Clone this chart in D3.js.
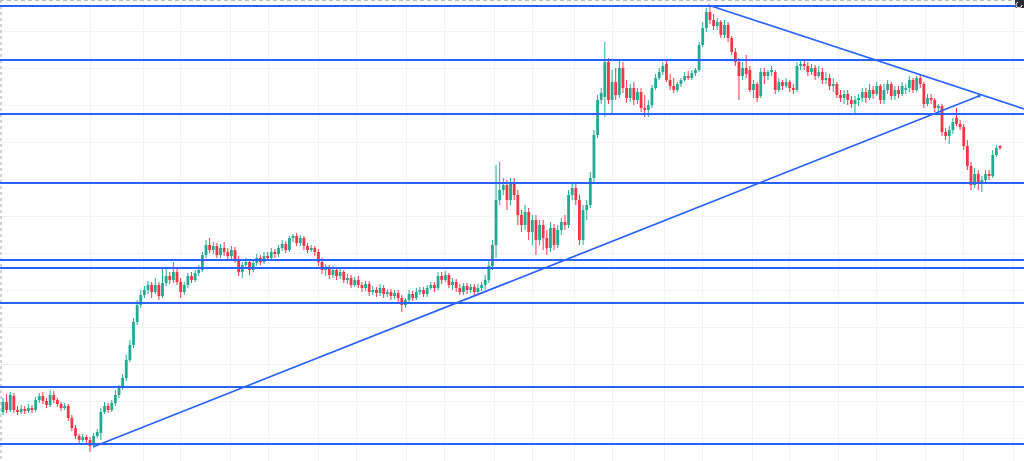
<!DOCTYPE html>
<html>
<head>
<meta charset="utf-8">
<script src="https://cdn.jsdelivr.net/npm/d3@7"></script>
<style>
html,body{margin:0;padding:0;background:#fff;overflow:hidden;}
svg{display:block;}
</style>
</head>
<body>
<svg id="chart" width="1024" height="461"></svg>
<script>
// ---- DATA (price units, candle index = time) ----
const opens = [
88,98,90,104,90,88,91,89,92,90,
100,104,99,95,105,100,96,92,94,82,
72,64,60,63,60,56,64,67,88,94,
90,97,105,112,122,140,155,178,195,205,
210,215,208,215,204,217,224,220,228,218,
208,215,224,220,227,230,245,255,250,254,
245,252,248,244,250,240,228,235,238,230,
237,242,238,244,242,248,246,252,256,250,
262,264,257,262,254,250,252,248,238,230,
232,225,230,224,228,220,222,215,220,215,
212,216,208,210,207,212,206,208,204,207,
202,195,200,206,202,208,210,206,212,215,
212,224,220,225,215,218,212,208,214,210,
213,208,212,215,220,234,255,300,310,315,
300,318,305,285,275,288,268,280,260,275,
262,252,272,255,270,278,275,305,312,300,
260,290,295,322,365,400,403,438,400,418,
405,432,412,402,412,400,408,392,390,395,
412,422,428,436,420,414,410,416,420,424,
422,427,430,455,472,488,480,474,478,465,
475,462,448,438,424,432,430,410,416,404,
428,424,428,428,410,418,414,418,412,410,
434,436,434,428,432,424,428,420,422,414,
416,405,402,406,400,396,400,402,408,402,
410,406,414,400,410,416,404,410,406,410,
412,420,410,422,416,396,402,400,392,394,
368,364,370,382,376,373,354,334,315,326,
316,320,326,324,345,354
];
const highs = [
102,106,108,107,94,95,94,96,95,103,
107,108,102,110,109,102,98,97,96,85,
75,66,66,65,63,67,71,92,98,97,
100,110,115,126,145,160,182,200,210,214,
219,218,222,218,232,232,228,238,231,222,
218,227,228,230,235,248,260,262,258,257,
256,258,252,254,253,244,238,242,241,241,
246,245,248,248,252,251,255,260,259,264,
266,267,265,264,257,255,254,251,242,236,
235,234,232,231,230,226,225,223,224,218,
219,219,214,213,216,215,211,211,210,210,
205,202,210,209,212,213,213,215,218,218,
228,228,229,227,222,221,216,217,217,216,
216,216,218,225,240,260,335,338,322,320,
322,322,310,290,295,292,285,285,280,280,
270,278,276,275,282,285,310,317,317,305,
295,300,328,370,405,412,458,442,430,432,
440,438,420,416,418,412,412,405,400,415,
426,432,438,440,426,422,418,422,428,429,
430,432,458,478,492,494,486,482,480,480,
478,464,452,442,438,445,434,420,418,432,
432,430,434,430,422,420,422,420,416,438,
440,440,438,436,435,434,432,428,426,422,
418,410,410,410,404,404,406,412,412,416,
414,418,416,416,420,418,414,414,418,416,
424,422,424,426,418,406,406,402,396,396,
372,374,382,392,380,376,360,338,332,330,
324,330,330,350,355,355
];
const lows = [
85,87,88,87,85,86,86,87,87,88,
97,96,92,93,97,93,89,90,79,69,
61,57,58,57,48,54,62,60,86,87,
88,94,102,110,119,138,152,175,192,202,
206,202,206,200,202,214,216,217,215,202,
205,212,217,218,224,228,242,247,246,242,
242,244,240,241,237,224,222,232,225,228,
234,235,236,239,240,242,243,249,247,248,
258,254,254,250,247,248,244,234,226,224,
221,222,220,221,217,216,212,213,212,208,
209,204,205,203,204,202,203,200,201,198,
188,192,197,199,200,205,203,203,210,208,
210,216,218,212,210,208,205,205,206,207,
204,205,209,210,217,230,242,295,305,290,
295,300,275,268,270,260,255,245,255,250,
245,248,250,252,265,270,272,300,295,255,
255,280,292,318,362,396,383,396,387,400,
402,407,397,398,395,396,388,383,383,392,
410,420,425,418,410,407,408,413,418,420,
420,424,428,453,468,476,470,470,462,462,
458,445,434,400,420,422,408,402,398,402,
416,420,424,406,408,410,412,408,406,408,
430,430,424,425,420,422,416,416,410,408,
402,398,396,395,392,385,394,398,397,400,
401,404,396,396,406,400,400,402,404,406,
408,407,408,412,392,394,396,388,388,364,
360,356,366,374,370,350,330,310,312,310,
308,316,320,322,343,350
];
const closes = [
98,90,105,90,88,91,89,92,90,100,
104,99,95,105,100,96,92,94,82,72,
64,60,63,60,54,64,68,88,94,90,
97,105,112,122,140,155,178,195,205,210,
215,208,215,204,217,224,220,228,218,208,
215,224,220,227,230,245,255,250,254,245,
252,248,244,250,240,228,235,238,230,237,
242,238,244,242,248,246,252,256,250,262,
264,257,262,254,250,252,248,238,230,232,
225,230,224,228,220,222,215,220,215,212,
216,208,210,207,212,206,208,204,207,202,
195,200,206,202,208,210,206,212,215,212,
224,220,225,215,218,212,208,214,210,213,
208,212,215,220,234,255,300,310,315,300,
318,305,285,275,288,268,280,260,275,262,
252,272,255,270,278,275,305,312,300,260,
290,295,322,365,400,407,438,400,418,405,
432,412,402,412,400,408,392,390,395,412,
422,428,434,420,414,410,416,420,424,422,
427,430,455,472,488,480,474,478,465,475,
462,448,438,424,432,426,410,416,402,428,
424,428,430,410,418,414,418,412,410,434,
436,434,428,432,424,428,420,422,414,416,
405,402,406,400,396,400,402,408,402,410,
406,414,400,410,416,404,410,406,414,412,
420,410,422,416,396,402,400,392,394,368,
364,370,378,376,373,354,334,315,326,316,
320,326,324,345,352,352
];
// horizontal support / resistance levels (price)
const levels = [494, 440, 386, 317, 240, 232, 197, 113, 56];
// trend lines: [startIndex, startPrice, endIndex, endPrice]
const trendRising = [24.8, 53, 269.2, 404];
const trendFalling = [194.5, 495, 281.7, 391];
// grid positions
const gridTimes = [24, 38.6, 48.8, 62.6, 73.1, 86.9, 97.4, 111.2, 121.7, 135.4, 145.9, 157.5,
                   168, 182.3, 192.8, 206.6, 216.8, 230.3, 240.8, 254.3, 264.8, 278.6];
const gridPrices = [62, 99, 136, 173, 210, 247, 284, 321, 358, 395, 432, 469];

// ---- DRAW ----
const W = 1024, H = 461;
const svg = d3.select("#chart");
const N = closes.length;
const candles = d3.range(N).map(i => ({i, o: opens[i], h: highs[i], l: lows[i], c: closes[i]}));

const x = d3.scaleLinear().domain([0, N - 1]).range([3, 1000]);
const y = d3.scaleLinear().domain([39, 500]).range([H, 0]);

const UP = "#22ab94", DOWN = "#f23645", BLUE = "#2962ff";

svg.append("rect").attr("width", W).attr("height", H).attr("fill", "#fff");

// grid
const grid = svg.append("g").attr("stroke", "#f0f2f6").attr("stroke-width", 1);
grid.selectAll("line.v").data(gridTimes).join("line")
  .attr("x1", d => Math.round(x(d)) + 0.5).attr("x2", d => Math.round(x(d)) + 0.5)
  .attr("y1", 0).attr("y2", H);
grid.selectAll("line.h").data(gridPrices).join("line")
  .attr("x1", 0).attr("x2", W)
  .attr("y1", d => Math.round(y(d)) + 0.5).attr("y2", d => Math.round(y(d)) + 0.5);

// dashed frame
svg.append("line").attr("x1", 0).attr("x2", W).attr("y1", 0.5).attr("y2", 0.5)
  .attr("stroke", "#bdbdbd").attr("stroke-width", 1.2).attr("stroke-dasharray", "4,3");
svg.append("line").attr("x1", 1).attr("x2", 1).attr("y1", 0).attr("y2", H)
  .attr("stroke", "#c4c4c4").attr("stroke-width", 1.5).attr("stroke-dasharray", "3,3");

// candles
const cg = svg.append("g");
const col = d => d.c >= d.o ? UP : DOWN;
cg.selectAll("line.wick").data(candles).join("line")
  .attr("x1", d => x(d.i)).attr("x2", d => x(d.i))
  .attr("y1", d => y(d.h)).attr("y2", d => y(d.l))
  .attr("stroke", col).attr("stroke-width", 1);
cg.selectAll("rect.body").data(candles).join("rect")
  .attr("x", d => x(d.i) - 1.4).attr("width", 2.8)
  .attr("y", d => y(Math.max(d.o, d.c)))
  .attr("height", d => Math.max(1, Math.abs(y(d.o) - y(d.c))))
  .attr("fill", col);

// horizontal levels
svg.append("g").selectAll("line").data(levels).join("line")
  .attr("x1", 0).attr("x2", W)
  .attr("y1", d => y(d)).attr("y2", d => y(d))
  .attr("stroke", BLUE).attr("stroke-width", 1.8);

// trend lines
[trendRising, trendFalling].forEach(t => {
  svg.append("line")
    .attr("x1", x(t[0])).attr("y1", y(t[1]))
    .attr("x2", x(t[2])).attr("y2", y(t[3]))
    .attr("stroke", BLUE).attr("stroke-width", 1.7);
});
svg.append("circle").attr("cx", x(trendRising[2])).attr("cy", y(trendRising[3]))
  .attr("r", 1.6).attr("fill", BLUE);

// corner icon
svg.append("rect").attr("x", 1015).attr("y", -2).attr("width", 11).attr("height", 10).attr("rx", 2)
  .attr("fill", "#2a2e39");
svg.append("path").attr("d", "M1018,2 A3,3 0 1,0 1022,5")
  .attr("fill", "none").attr("stroke", "#fff").attr("stroke-width", 1);
</script>
</body>
</html>
